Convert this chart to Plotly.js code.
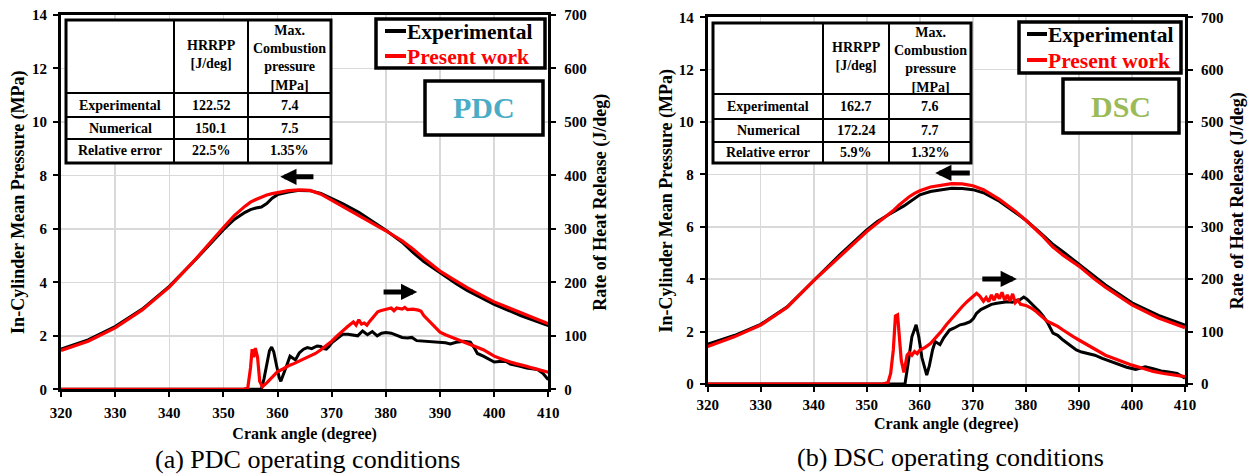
<!DOCTYPE html>
<html><head><meta charset="utf-8">
<script src="https://cdn.plot.ly/plotly-3.0.1.min.js"></script>
<style>html,body{margin:0;padding:0;background:#fff}#chart{width:1254px;height:475px}</style>
</head><body><div id="chart"></div><script>
// ---------- PDC (a) ----------
const pdcPressAngle = [320,325,330,335,340,345,350,352,354,355,356,357,358,359,360,362,364,366,368,370,372,375,378,380,383,385,387,390,393,395,400,405,410];
const pdcPressExp = [1.50,1.85,2.35,3.00,3.85,4.88,5.97,6.35,6.62,6.72,6.78,6.82,6.95,7.15,7.28,7.38,7.44,7.43,7.33,7.15,6.95,6.62,6.22,5.95,5.50,5.12,4.78,4.35,3.95,3.70,3.18,2.75,2.38];
const pdcPressNum = [1.45,1.80,2.30,2.97,3.82,4.90,6.05,6.50,6.85,7.00,7.10,7.20,7.27,7.32,7.36,7.43,7.46,7.44,7.30,7.07,6.85,6.50,6.15,5.93,5.55,5.25,4.90,4.42,4.05,3.80,3.27,2.85,2.45];

const pdcHrrExpAngle = [320,357.0,357.5,358.0,358.5,358.9,359.3,359.8,360.3,360.6,361,361.7,362.3,362.8,363.3,364,364.8,365.5,366.3,367.3,368,368.5,369,369.5,370,371,372,373,374,374.8,375.7,376.6,377.5,378.4,379.2,380,381,382,383,384,384.8,385.7,387,388,389,390,391,391.9,393,394.4,395.6,396.3,396.9,398,399,400,401,402.2,403,404,404.8,406,407,408,409,410];
const pdcHrrExp = [0,0,20,50,72,79,70,45,22,15,25,45,62,58,55,68,75,78,76,81,80,76,75,80,87,95,103,103,101,100,109,102,108,100,105,106,105,101,97,96,97,91,90,90,89,89,87,85,88,90,88,78,67,62,56,51,52,52,47,44,43,40,38,37,30,18];

const pdcHrrNumAngle = [320,353.8,354.5,355.0,355.3,355.6,355.9,356.3,356.7,357.2,358,359,360,361,362,363,364,365,366,367,368,369,370,371,372,373,374,374.5,375,375.5,376,376.5,377,377.5,378,378.5,379,380,381,381.5,382,383,383.5,384,385,386,386.5,387,388,389,390,391,392,393,394,395,396,397,398,399,400,401,402,403,404,405,406,407,408,409,410];
const pdcHrrNum = [0,0,3,40,75,60,77,60,15,5,12,22,33,38,44,48,53,58,62,67,74,82,90,100,110,118,126,120,130,122,124,120,127,133,140,145,147,149,152,147,152,150,153,149,150,148,146,138,128,118,107,102,98,95,90,87,83,79,74,68,62,58,54,51,48,46,43,40,37,35,32];

// ---------- DSC (b) ----------
const dscPressAngle = [320,325,330,335,340,345,350,352,354,355,356,357,358,359,360,362,364,366,368,370,372,375,378,380,383,385,387,390,393,395,400,405,410];
const dscPressExp = [1.52,1.85,2.28,2.95,3.95,4.95,5.88,6.20,6.45,6.58,6.68,6.80,6.95,7.10,7.22,7.35,7.42,7.47,7.46,7.42,7.30,6.98,6.55,6.25,5.72,5.35,5.05,4.58,4.08,3.78,3.10,2.62,2.25];
const dscPressNum = [1.43,1.80,2.25,2.93,3.95,4.90,5.82,6.15,6.45,6.62,6.82,7.00,7.15,7.28,7.38,7.52,7.60,7.65,7.64,7.57,7.42,7.05,6.60,6.25,5.68,5.25,4.92,4.50,4.00,3.70,3.02,2.52,2.15];

const dscHrrExpAngle = [320,357.2,357.8,358.5,359.3,359.8,360.4,361.3,361.8,362.4,362.9,363.4,363.8,364.5,365.6,366.5,367.6,368.5,369.5,370.1,370.7,371.5,372.6,373.5,374.5,375.5,376.5,377.5,378.3,378.9,379.6,380.2,380.7,381.5,382.5,383.3,384.2,385.1,386,387,388,389.5,390.5,392,393,394.4,396,397.6,399,400.7,401.5,402.5,404,405.5,406.9,408.5,410];
const dscHrrExp = [0,0,40,90,113,90,50,17,35,65,81,78,75,88,103,107,113,115,119,125,135,142,148,152,154,155,157,156,160,161,166,162,157,150,139,129,115,97,93,84,77,65,61,57,55,49,43,36,32,28,30,33,29,25,23,20,11];

const dscHrrNumAngle = [320,353,354,354.5,355,355.4,355.8,356.1,356.5,357,357.3,357.6,358,358.5,359,359.5,360,361,362,363,364,365,366,367,368,369,370,370.7,371.3,372,372.5,373,373.5,374,374.5,375,375.5,376,376.5,377,377.5,378,378.5,379,380,381,382,383,384,385,386,387,388,389,390,391,392,393,394,395,396,397,398,399,400,402,404,406,408,410];
const dscHrrNum = [0,0,3,20,65,130,132,95,45,22,40,55,60,55,62,58,65,70,77,88,100,113,125,138,148,158,168,173,168,158,165,157,170,160,172,163,175,160,170,158,172,155,160,152,150,145,138,128,120,115,110,103,96,90,84,78,72,66,60,55,51,47,43,39,36,30,24,20,17,14];

// ---------- table / labels ----------
const tableRowLabels = ['Experimental','Numerical','Relative error'];
const tableHeaders = ['HRRPP<br>[J/deg]','Max.<br>Combustion<br>pressure<br>[MPa]'];
const pdcTableHrrpp = ['122.52','150.1','22.5%'];
const pdcTableMaxP = ['7.4','7.5','1.35%'];
const dscTableHrrpp = ['162.7','172.24','5.9%'];
const dscTableMaxP = ['7.6','7.7','1.32%'];
const seriesNames = ['Experimental','Present work'];
const panelLabels = ['PDC','DSC'];
const captions = ['(a) PDC operating conditions','(b) DSC operating conditions'];
const xTitle = 'Crank angle (degree)';
const yTitleL = 'In-Cylinder Mean Pressure (MPa)';
const yTitleR = 'Rate of Heat Release (J/deg)';

// ---------- layout helpers ----------
const W = 1254, H = 475;
const fx = p => p / W, fy = p => 1 - p / H;
const SERIF = 'Liberation Serif, Times New Roman, serif';
const tickF = {family: SERIF, size: 15, color: '#000', weight: 'bold'};
const titleF = {family: SERIF, size: 18, color: '#000', weight: 'bold'};
const RED = '#ff0000';

function xAx(dom, anchor, lblOff, titleOff) {
  return {domain: dom, anchor: anchor, range: [320, 410], tick0: 320, dtick: 10,
    showgrid: true, gridcolor: '#d9d9d9', gridwidth: 1.5, zeroline: false,
    showline: true, linecolor: '#000', linewidth: 3, mirror: true,
    ticks: 'outside', ticklen: 5, tickwidth: 2, tickcolor: '#000',
    tickfont: tickF, ticklabelstandoff: lblOff,
    title: {text: xTitle, font: {family: SERIF, size: 16, color: '#000', weight: 'bold'}, standoff: titleOff}};
}
function yAxL(dom, anchor, titleOff) {
  return {domain: dom, anchor: anchor, range: [0, 14], dtick: 2,
    showgrid: true, gridcolor: '#d9d9d9', gridwidth: 1.5, zeroline: false,
    showline: true, linecolor: '#000', linewidth: 3, mirror: true,
    ticks: 'outside', ticklen: 5, tickwidth: 2, tickcolor: '#000',
    tickfont: tickF, ticklabelstandoff: 3,
    title: {text: yTitleL, font: titleF, standoff: titleOff}};
}
function yAxR(over, anchor) {
  return {overlaying: over, anchor: anchor, side: 'right', range: [0, 700], dtick: 100,
    showgrid: false, zeroline: false,
    showline: true, linecolor: '#000', linewidth: 3,
    ticks: 'outside', ticklen: 5, tickwidth: 2, tickcolor: '#000',
    tickfont: tickF, ticklabelstandoff: 5,
    title: {text: yTitleR, font: titleF, standoff: 8}};
}

function line(x, y, xa, ya, color, name) {
  return {type: 'scatter', mode: 'lines', x: x, y: y, xaxis: xa, yaxis: ya,
    line: {color: color, width: color === RED ? 3.2 : 3}, name: name,
    showlegend: false, hoverinfo: 'skip'};
}

const data = [
  line(pdcHrrExpAngle, pdcHrrExp, 'x', 'y2', '#000', seriesNames[0]),
  line(pdcHrrNumAngle, pdcHrrNum, 'x', 'y2', RED, seriesNames[1]),
  line(pdcPressAngle, pdcPressExp, 'x', 'y', '#000', seriesNames[0]),
  line(pdcPressAngle, pdcPressNum, 'x', 'y', RED, seriesNames[1]),
  line(dscHrrExpAngle, dscHrrExp, 'x2', 'y4', '#000', seriesNames[0]),
  line(dscHrrNumAngle, dscHrrNum, 'x2', 'y4', RED, seriesNames[1]),
  line(dscPressAngle, dscPressExp, 'x2', 'y3', '#000', seriesNames[0]),
  line(dscPressAngle, dscPressNum, 'x2', 'y3', RED, seriesNames[1])
];

const shapes = [], annotations = [];
function rectPx(x0, y0, x1, y1, w) {
  shapes.push({type: 'rect', xref: 'paper', yref: 'paper', x0: fx(x0), x1: fx(x1), y0: fy(y1), y1: fy(y0),
    line: {color: '#000', width: w}, fillcolor: '#fff', layer: 'above'});
}
function linePx(x0, y0, x1, y1, w, color) {
  shapes.push({type: 'line', xref: 'paper', yref: 'paper', x0: fx(x0), x1: fx(x1), y0: fy(y0), y1: fy(y1),
    line: {color: color || '#000', width: w}, layer: 'above'});
}
function textPx(txt, x, y, font, xanchor) {
  annotations.push({xref: 'paper', yref: 'paper', x: fx(x), y: fy(y), text: txt, showarrow: false,
    xanchor: xanchor || 'center', yanchor: 'middle', font: font, borderpad: 0});
}
const cellF = {family: SERIF, size: 14, color: '#000', weight: 'bold'};

function table(cols, rows, hrrpp, maxp) {
  rectPx(cols[0], rows[0], cols[3], rows[4], 3);
  for (let i = 1; i < 3; i++) linePx(cols[i], rows[0], cols[i], rows[4], 2);
  for (let j = 1; j < 4; j++) linePx(cols[0], rows[j], cols[3], rows[j], 2);
  const cx = [0, 1, 2].map(i => (cols[i] + cols[i + 1]) / 2);
  textPx(tableHeaders[0], cx[1], (rows[0] + rows[1]) / 2 - 2, cellF);
  textPx(tableHeaders[1], cx[2], (rows[0] + rows[1]) / 2 + 1, cellF);
  for (let j = 0; j < 3; j++) {
    const cy = (rows[j + 1] + rows[j + 2]) / 2;
    textPx(tableRowLabels[j], cx[0], cy, cellF);
    textPx(hrrpp[j], cx[1], cy, cellF);
    textPx(maxp[j], cx[2], cy, cellF);
  }
}
table([66, 174, 248, 331], [20, 93, 117, 139, 163], pdcTableHrrpp, pdcTableMaxP);
table([713, 823, 889, 971], [23, 94, 119, 142, 163], dscTableHrrpp, dscTableMaxP);

// legends (boxed, line sample + coloured bold text)
const legF = sz => ({family: SERIF, size: sz, color: '#000', weight: 'bold'});
function legendBox(x0, y0, x1, y1, lx0, lx1, yA, yB) {
  rectPx(x0, y0, x1, y1, 3.5);
  linePx(lx0, yA, lx1, yA, 4, '#000');
  linePx(lx0, yB, lx1, yB, 4, RED);
  textPx(seriesNames[0], lx1, yA + 1, legF(21.5), 'left');
  textPx(seriesNames[1], lx1, yB + 1, Object.assign(legF(21.5), {color: RED}), 'left');
}
legendBox(376, 19, 545, 68, 385, 406, 31, 56);
legendBox(1019, 22, 1181, 73, 1027, 1047, 34, 60);

// panel label boxes
rectPx(425, 81, 543, 135, 3.5);
textPx(panelLabels[0], 484, 108, {family: SERIF, size: 30, color: '#4bacc6', weight: 'bold'});
rectPx(1063, 79, 1179, 133, 3.5);
textPx(panelLabels[1], 1121, 106, {family: SERIF, size: 30, color: '#9bbb59', weight: 'bold'});

// captions
textPx(captions[0], 307, 459, {family: SERIF, size: 26, color: '#000'});
textPx(captions[1], 950, 457, {family: SERIF, size: 26, color: '#000'});

// arrows
function arrow(xr, yr, tipX, tailX, yv) {
  annotations.push({xref: xr, yref: yr, axref: xr, ayref: yr, x: tipX, y: yv, ax: tailX, ay: yv,
    text: '', showarrow: true, arrowhead: 2, arrowsize: 0.65, arrowwidth: 5, arrowcolor: '#000'});
}
arrow('x', 'y', 360.5, 366.9, 7.95);
arrow('x', 'y', 385.8, 379.3, 3.64);
arrow('x2', 'y3', 362.9, 369.7, 8.06);
arrow('x2', 'y3', 378.3, 371.5, 4.01);

const layout = {
  width: W, height: H, margin: {l: 0, r: 0, t: 0, b: 0},
  paper_bgcolor: '#fff', plot_bgcolor: '#fff', showlegend: false,
  xaxis: xAx([fx(61), fx(548.3)], 'y', 3, 8),
  yaxis: yAxL([fy(389.3), fy(15)], 'x', 3),
  yaxis2: yAxR('y', 'x'),
  xaxis2: xAx([fx(707.7), fx(1185)], 'y3', 0, 6),
  yaxis3: yAxL([fy(384), fy(17.3)], 'x2', 2),
  yaxis4: yAxR('y3', 'x2'),
  shapes: shapes, annotations: annotations
};

Plotly.newPlot('chart', data, layout, {displayModeBar: false, staticPlot: true});
</script></body></html>
